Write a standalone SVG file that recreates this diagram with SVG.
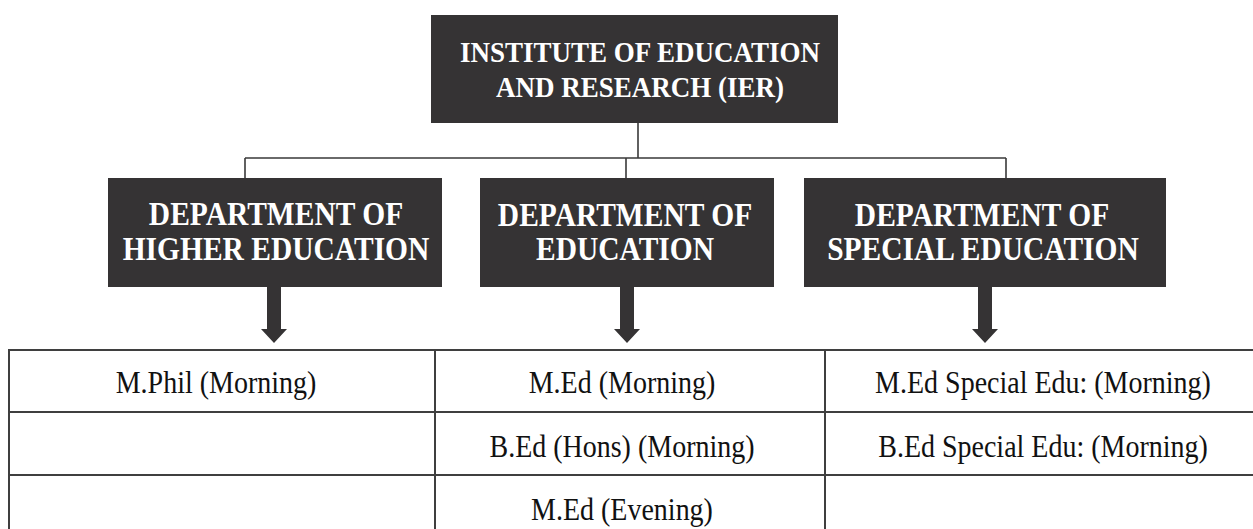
<svg xmlns="http://www.w3.org/2000/svg" width="1253" height="529" viewBox="0 0 1253 529">
<style>
.box{fill:#353334}
.ht{font-family:"Liberation Serif","Times New Roman",serif;font-weight:bold;fill:#ffffff;text-anchor:middle}
.ct{font-family:"Liberation Serif","Times New Roman",serif;font-size:28px;fill:#111111;text-anchor:middle}
.conn{stroke:#3a3a3a;stroke-width:1.6;fill:none}
.grid{stroke:#3f3f3f;stroke-width:2;fill:none}
.arr{fill:#353334}
</style>
<rect width="1253" height="529" fill="#ffffff"/>
<g id="connectors">
<path class="conn" d="M638 123 V158 M245 158 H1006 M245 158 V178 M626 158 V178 M1006 158 V178"/>
<path class="arr" d="M267 287 H281 V329 H287 L274 343 L261 329 H267 Z"/>
<path class="arr" d="M620 287 H634 V329 H640 L627 343 L614 329 H620 Z"/>
<path class="arr" d="M978 287 H992 V329 H998 L985 343 L972 329 H978 Z"/>
</g>
<g id="node-ier">
<rect class="box" x="431" y="15" width="407" height="108"/>
<text class="ht" font-size="27" transform="translate(640,62) scale(1,1.13)">INSTITUTE OF EDUCATION</text>
<text class="ht" font-size="27" transform="translate(640,97) scale(1,1.13)">AND RESEARCH (IER)</text>
</g>
<g id="node-higher">
<rect class="box" x="108" y="178" width="334" height="109"/>
<text class="ht" font-size="29.5" transform="translate(276,225) scale(1,1.12)">DEPARTMENT OF</text>
<text class="ht" font-size="29.5" transform="translate(276,260) scale(1,1.12)">HIGHER EDUCATION</text>
</g>
<g id="node-education">
<rect class="box" x="480" y="178" width="294" height="109"/>
<text class="ht" font-size="29.5" transform="translate(625,226) scale(1,1.12)">DEPARTMENT OF</text>
<text class="ht" font-size="29.5" transform="translate(625,260) scale(1,1.12)">EDUCATION</text>
</g>
<g id="node-special">
<rect class="box" x="804" y="178" width="362" height="109"/>
<text class="ht" font-size="29.5" transform="translate(982,226) scale(1,1.12)">DEPARTMENT OF</text>
<text class="ht" font-size="29.5" transform="translate(983,260) scale(1,1.12)">SPECIAL EDUCATION</text>
</g>
<g id="table">
<path class="grid" d="M9 350 H1253 M9 412 H1253 M9 475 H1253 M9 349 V529 M435 350 V529 M825 350 V529"/>
<text class="ct" transform="translate(216,393) scale(1,1.15)">M.Phil (Morning)</text>
<text class="ct" transform="translate(622,393) scale(1,1.15)">M.Ed (Morning)</text>
<text class="ct" transform="translate(622,457) scale(1,1.15)">B.Ed (Hons) (Morning)</text>
<text class="ct" transform="translate(622,520) scale(1,1.15)">M.Ed (Evening)</text>
<text class="ct" transform="translate(1043,393) scale(1,1.15)">M.Ed Special Edu: (Morning)</text>
<text class="ct" transform="translate(1043,457) scale(1,1.15)">B.Ed Special Edu: (Morning)</text>
</g>
</svg>
